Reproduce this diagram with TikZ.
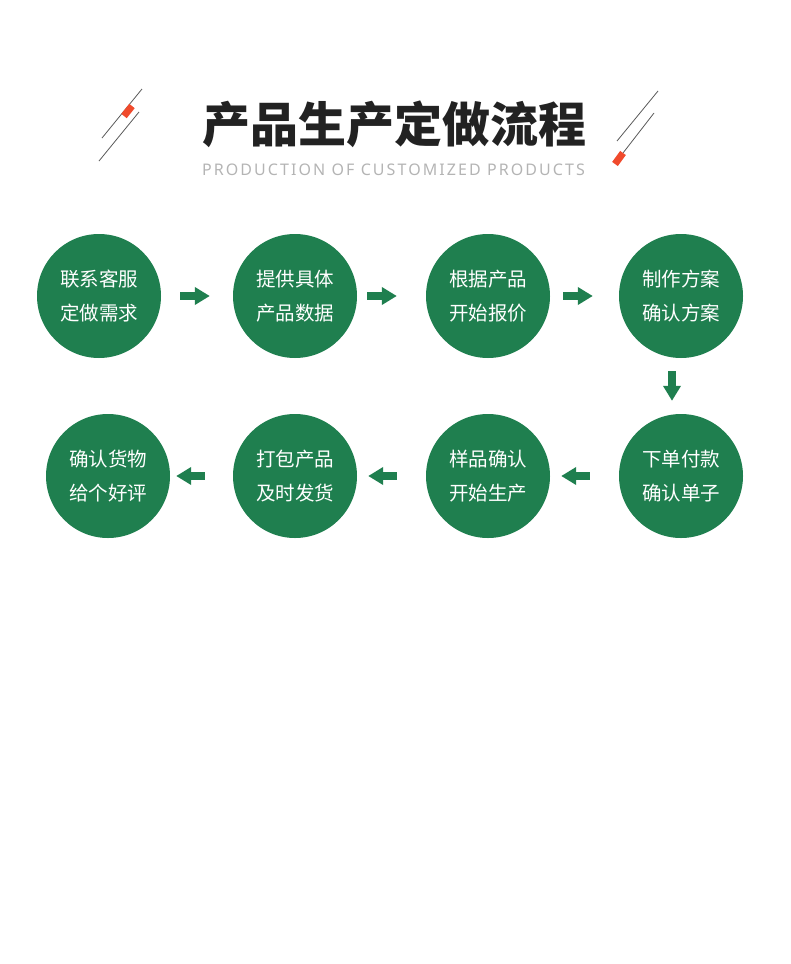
\documentclass[tikz,border=0pt]{standalone}
\usepackage{fontspec}
\newfontfamily\cjk{Noto Sans CJK SC}
\newfontfamily\latin{Noto Sans}
\usetikzlibrary{arrows.meta}
\definecolor{stepgreen}{HTML}{1F7F4F}
\definecolor{accentred}{HTML}{F04A2C}
\definecolor{subgray}{HTML}{B4B4B4}
\definecolor{titlegray}{HTML}{222222}
\begin{document}
\begin{tikzpicture}[x=1pt,y=-1pt,
  stepnode/.style={circle, fill=stepgreen, minimum size=124pt, inner sep=0pt,
    text=white, align=center, font=\cjk\fontsize{19.5}{34}\selectfont},
  flow/.style={draw=stepgreen, line width=8pt, -{Triangle[length=15pt,width=17pt]}},
  deco/.style={draw=black!65, line width=0.8pt}]
\useasboundingbox (0,0) rectangle (790,964);
% title
\node[text=titlegray] (title) at (394.5,124) {\cjk\bfseries\fontsize{48}{48}\selectfont 产品生产定做流程};
\node[text=subgray] (sub) at (393.5,170) {\latin\addfontfeatures{LetterSpace=13}\fontsize{16}{16}\selectfont PRODUCTION OF CUSTOMIZED PRODUCTS};
\draw[deco] (102,138) -- (142,89);
\draw[deco] (99,161) -- (139,112);
\draw[accentred, line width=7pt] (124,116) -- (132,106);
\draw[deco] (617,141) -- (658,91);
\draw[deco] (623,153) -- (654,113);
\draw[accentred, line width=7pt] (615,164) -- (623,153);
% steps
\node[stepnode] (a) at (99,296) {联系客服\\定做需求};
\node[stepnode] (b) at (295,296) {提供具体\\产品数据};
\node[stepnode] (c) at (488,296) {根据产品\\开始报价};
\node[stepnode] (d) at (681,296) {制作方案\\确认方案};
\node[stepnode] (h) at (681,476) {下单付款\\确认单子};
\node[stepnode] (g) at (488,476) {样品确认\\开始生产};
\node[stepnode] (f) at (295,476) {打包产品\\及时发货};
\node[stepnode] (e) at (108,476) {确认货物\\给个好评};
\draw[flow, shorten <=19pt, shorten >=23pt] (a) -- (b);
\draw[flow, shorten <=10pt, shorten >=29pt] (b) -- (c);
\draw[flow, shorten <=13pt, shorten >=26pt] (c) -- (d);
\draw[flow, shorten <=13pt, shorten >=13pt] ([xshift=-9pt]d.south) -- ([xshift=-9pt]h.north);
\draw[flow, shorten <=29pt, shorten >=11pt] (h) -- (g);
\draw[flow, shorten <=29pt, shorten >=11pt] (g) -- (f);
\draw[flow, shorten <=28pt, shorten >=6pt] (f) -- (e);
\end{tikzpicture}
\end{document}
